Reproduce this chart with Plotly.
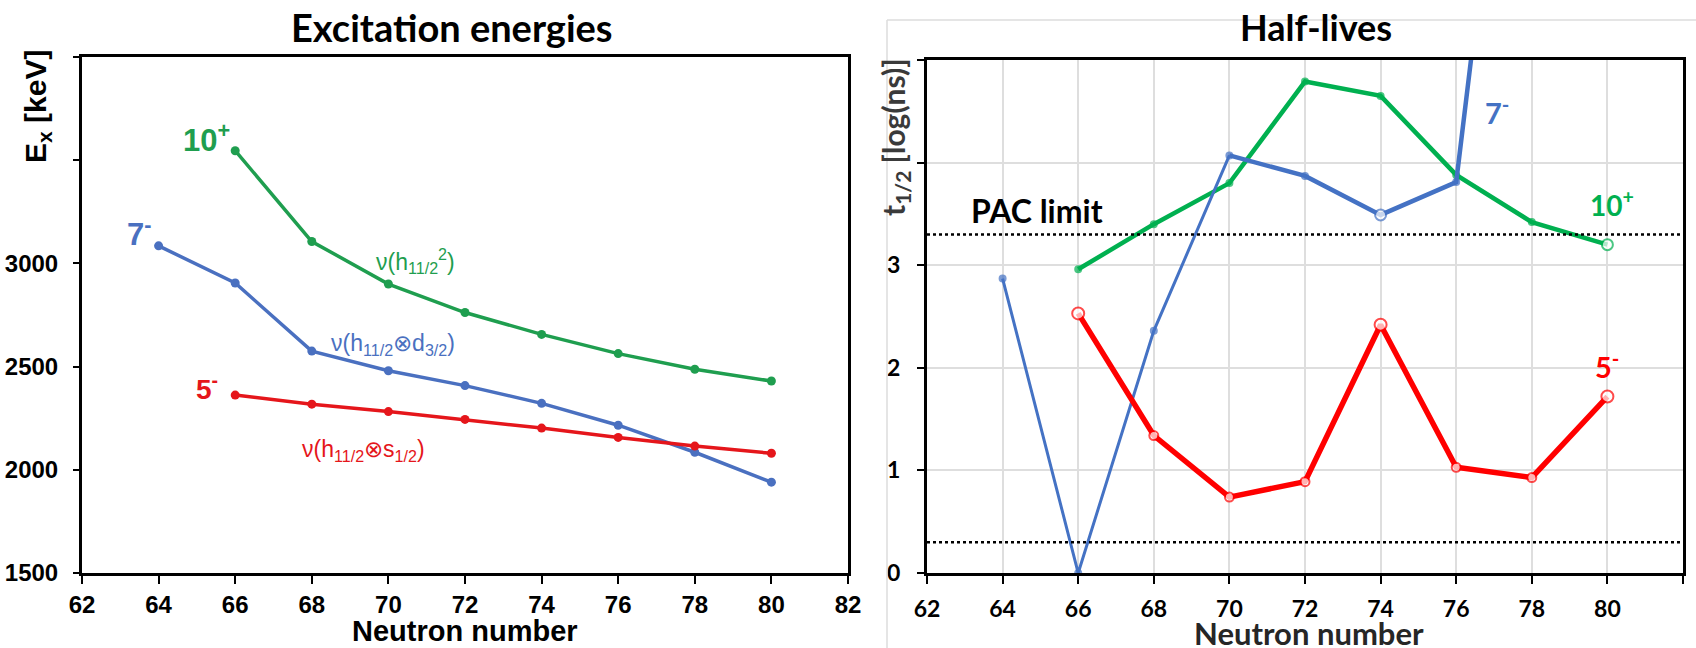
import plotly.graph_objects as go

# ---------------- data ----------------
N_EX_7 = [64, 66, 68, 70, 72, 74, 76, 78, 80]
EX_7 = [3085, 2905, 2575, 2480, 2408, 2322, 2216, 2085, 1940]
N_EX_10 = [66, 68, 70, 72, 74, 76, 78, 80]
EX_10 = [3546, 3106, 2900, 2762, 2656, 2563, 2487, 2430]
N_EX_5 = [66, 68, 70, 72, 74, 76, 78, 80]
EX_5 = [2362, 2318, 2282, 2244, 2202, 2157, 2115, 2080]

N_HL_7 = [64, 66, 68, 70, 72, 74, 76, 78]
HL_7 = [2.87, 0.0, 2.36, 4.07, 3.87, 3.49, 3.81, 9.9]
N_HL_10 = [66, 68, 70, 72, 74, 76, 78, 80]
HL_10 = [2.96, 3.40, 3.80, 4.79, 4.65, 3.88, 3.42, 3.20]
N_HL_5 = [66, 68, 70, 72, 74, 76, 78, 80]
HL_5 = [2.53, 1.34, 0.74, 0.89, 2.42, 1.03, 0.93, 1.72]

PAC_LIMITS = [0.3, 3.3]

X_TICKS = [62, 64, 66, 68, 70, 72, 74, 76, 78, 80, 82]
EX_TICKS = [1500, 2000, 2500, 3000, 3500, 4000]
EX_TICKTEXT = ["1500", "2000", "2500", "3000", "", ""]
HL_TICKS = [0, 1, 2, 3, 4, 5]
HL_TICKTEXT = ["0", "1", "2", "3", "", ""]

# ---------------- style ----------------
W, H = 1696, 648
ARIAL = "Liberation Sans, Arial, sans-serif"
CAL = "Lato, Carlito, Calibri, sans-serif"
L_GREEN, L_BLUE, L_RED = "#1f9e4f", "#4a70c0", "#e5161b"
R_GREEN, R_BLUE, R_RED = "#00b050", "#4472c4", "#ff0000"


def px(x):
    return x / W


def py(y):
    return 1 - y / H


fig = go.Figure()

# ---- left panel ----
for xs, ys, col in [(N_EX_10, EX_10, L_GREEN), (N_EX_7, EX_7, L_BLUE), (N_EX_5, EX_5, L_RED)]:
    fig.add_trace(go.Scatter(x=xs, y=ys, mode="lines+markers", xaxis="x", yaxis="y",
                             line=dict(color=col, width=3.5),
                             marker=dict(color=col, size=9), showlegend=False))

# ---- right panel ----
fig.add_trace(go.Scatter(x=N_HL_10, y=HL_10, mode="lines+markers", xaxis="x2", yaxis="y2",
                         line=dict(color=R_GREEN, width=4.5),
                         marker=dict(color=[R_GREEN] * (len(HL_10) - 1) + ["white"],
                                     size=[6] * (len(HL_10) - 1) + [11],
                                     line=dict(color=R_GREEN, width=2)),
                         showlegend=False))
fig.add_trace(go.Scatter(x=N_HL_7[:4], y=HL_7[:4], mode="lines", xaxis="x2", yaxis="y2",
                         line=dict(color=R_BLUE, width=3), showlegend=False))
fig.add_trace(go.Scatter(x=N_HL_7[3:], y=HL_7[3:], mode="lines", xaxis="x2", yaxis="y2",
                         line=dict(color=R_BLUE, width=4.5), showlegend=False))
blue_fill = [R_BLUE if n != 74 else "white" for n in N_HL_7]
blue_size = [6 if n != 74 else 11 for n in N_HL_7]
fig.add_trace(go.Scatter(x=N_HL_7, y=HL_7, mode="markers", xaxis="x2", yaxis="y2",
                         marker=dict(color=blue_fill, size=blue_size,
                                     line=dict(color=R_BLUE, width=2)),
                         cliponaxis=True, showlegend=False))
fig.add_trace(go.Scatter(x=N_HL_5, y=HL_5, mode="lines+markers", xaxis="x2", yaxis="y2",
                         line=dict(color=R_RED, width=5.5),
                         marker=dict(color="white", size=[12, 9, 9, 9, 12, 9, 9, 12],
                                     line=dict(color=R_RED, width=2)),
                         showlegend=False))

# PAC limits (dotted)
for lim in PAC_LIMITS:
    fig.add_shape(type="line", xref="x2", yref="y2", x0=X_TICKS[0], x1=X_TICKS[-1],
                  y0=lim, y1=lim, line=dict(color="black", width=2.5, dash="dot"), layer="above")

# faint picture border lines around right panel
fig.add_shape(type="line", xref="paper", yref="paper", x0=px(887), x1=px(887), y0=0, y1=py(20),
              line=dict(color="#dcdcdc", width=1.5))
fig.add_shape(type="line", xref="paper", yref="paper", x0=px(887), x1=1, y0=py(20), y1=py(20),
              line=dict(color="#dcdcdc", width=1.5))


def pann(text, x, y, family, size, color, weight="bold", angle=0):
    return dict(text=text, x=px(x), y=py(y), xref="paper", yref="paper",
                xanchor="center", yanchor="middle", textangle=angle, showarrow=False,
                font=dict(family=family, size=size, color=color, weight=weight))


def lab(text, x, y, col, size, ax="x", ay="y", family=ARIAL, weight="bold"):
    return dict(text=text, x=x, y=y, xref=ax, yref=ay, showarrow=False,
                xanchor="center", yanchor="middle",
                font=dict(family=family, size=size, color=col, weight=weight))


ann = []
# titles
ann.append(pann("Excitation energies", 452, 27, CAL, 38, "black"))
ann.append(pann("Half-lives", 1316, 27, CAL, 36, "black"))
# axis titles
ann.append(pann("Neutron number", 465, 631, ARIAL, 29, "black"))
ann.append(pann("Neutron number", 1309, 633, CAL, 31, "#262626"))
ann.append(pann("E<sub>x</sub> [keV]", 38, 107, ARIAL, 30, "black", angle=-90))
ann.append(pann("t<sub>1/2</sub> [log(ns)]", 895, 137, CAL, 30, "#3a3a3a", angle=-90))

# left panel labels
ann.append(lab("10<sup>+</sup>", 65.26, 3610, L_GREEN, 31))
ann.append(lab("7<sup>-</sup>", 63.49, 3150, L_BLUE, 31))
ann.append(lab("5<sup>-</sup>", 65.26, 2400, L_RED, 28))
ann.append(lab("ν(h<sub>11/2</sub><sup>2</sup>)", 70.7, 3010, L_GREEN, 23, weight="normal"))
ann.append(lab("ν(h<sub>11/2</sub>⊗d<sub>3/2</sub>)", 70.12, 2605, L_BLUE, 23, weight="normal"))
ann.append(lab("ν(h<sub>11/2</sub>⊗s<sub>1/2</sub>)", 69.34, 2095, L_RED, 23, weight="normal"))

# right panel labels
ann.append(lab("7<sup>-</sup>", 77.08, 4.50, R_BLUE, 29, "x2", "y2", CAL))
ann.append(lab("10<sup>+</sup>", 80.12, 3.60, R_GREEN, 28, "x2", "y2", CAL))
ann.append(lab("5<sup>-</sup>", 79.99, 2.03, R_RED, 29, "x2", "y2", CAL))
ann.append(lab("PAC limit", 64.91, 3.53, "black", 32, "x2", "y2", CAL))

axis_common = dict(showline=True, linecolor="black", linewidth=3, mirror=True,
                   ticks="outside", tickcolor="black", tickwidth=2, zeroline=False,
                   automargin=False)

fig.update_layout(
    width=W, height=H, margin=dict(l=0, r=0, t=0, b=0, pad=0, autoexpand=False),
    paper_bgcolor="white", plot_bgcolor="white",
    annotations=ann,
    xaxis=dict(domain=[px(82), px(848)], range=[62, 82], tickvals=X_TICKS, ticklen=8,
               showgrid=False, tickfont=dict(family=ARIAL, size=24, color="black", weight="bold"),
               ticklabelstandoff=0, anchor="y", **axis_common),
    yaxis=dict(domain=[py(573), py(57)], range=[1500, 4000], tickvals=EX_TICKS,
               ticktext=EX_TICKTEXT, ticklen=6, showgrid=False,
               tickfont=dict(family=ARIAL, size=24, color="black", weight="bold"),
               ticklabelstandoff=10, anchor="x", **axis_common),
    xaxis2=dict(domain=[px(927), px(1683)], range=[62, 82], tickvals=X_TICKS, ticklen=8,
                showgrid=True, gridcolor="#dedede", gridwidth=1.5,
                tickfont=dict(family=CAL, size=23, color="black", weight="bold"),
                ticklabelstandoff=5, anchor="y2", **axis_common),
    yaxis2=dict(domain=[py(573), py(60)], range=[0, 5], tickvals=HL_TICKS,
                ticktext=HL_TICKTEXT, ticklen=7, showgrid=True, gridcolor="#dedede", gridwidth=1.5,
                tickfont=dict(family=CAL, size=23, color="black", weight="bold"),
                ticklabelstandoff=12, anchor="x2", **axis_common),
)

fig.write_html("out.html")
